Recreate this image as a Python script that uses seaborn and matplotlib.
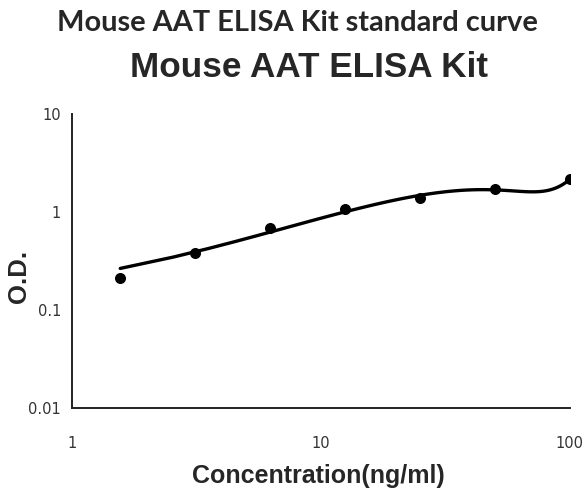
import numpy as np
import pandas as pd
import matplotlib
matplotlib.use("Agg")
import matplotlib.pyplot as plt
import seaborn as sns
from matplotlib.ticker import LogLocator, NullFormatter, FixedFormatter, FixedLocator

# ─── Data ─────────────────────────────────────────────────────────────────────
conc = [1.5625, 3.125, 6.25, 12.5, 25, 50, 100]
od   = [0.212, 0.38, 0.68, 1.07, 1.40, 1.70, 2.15]
x_ticks  = [1, 10, 100]
x_labels = ["1", "10", "100"]
y_ticks  = [0.01, 0.1, 1, 10]
y_labels = ["0.01", "0.1", "1", "10"]

df = pd.DataFrame({"conc": conc, "od": od})

# ─── Plot ─────────────────────────────────────────────────────────────────────
sns.set_theme(style="white")
plt.rcParams["font.family"] = ["DejaVu Sans"]

fig = plt.figure(figsize=(5.83, 4.88), dpi=100)
ax = fig.add_axes([0.1235, 0.164, 0.854, 0.6025])

# cubic trendline (linear x, linear y), drawn on log-log axes
sns.regplot(data=df, x="conc", y="od", order=3, ci=None, truncate=True, ax=ax,
            scatter_kws={"s": 48, "color": "black", "alpha": 1, "zorder": 3},
            line_kws={"color": "black", "lw": 2.4})

ax.set_xscale("log")
ax.set_yscale("log")
ax.set_xlim(1, 100)
ax.set_ylim(0.01, 10)

ax.xaxis.set_major_locator(FixedLocator(x_ticks))
ax.xaxis.set_major_formatter(FixedFormatter(x_labels))
ax.yaxis.set_major_locator(FixedLocator(y_ticks))
ax.yaxis.set_major_formatter(FixedFormatter(y_labels))
ax.xaxis.set_minor_locator(LogLocator(base=10, subs=np.arange(2, 10)))
ax.yaxis.set_minor_locator(LogLocator(base=10, subs=np.arange(2, 10)))
ax.xaxis.set_minor_formatter(NullFormatter())
ax.yaxis.set_minor_formatter(NullFormatter())

ax.tick_params(axis="both", which="both", direction="in", length=6, width=1.2, color="#222222")
ax.tick_params(axis="x", which="major", pad=20, labelsize=10.5, labelcolor="#333333")
ax.tick_params(axis="y", which="major", pad=8, labelsize=10.5, labelcolor="#333333")

sns.despine(ax=ax)
for s in ["left", "bottom"]:
    ax.spines[s].set_color("#222222")
    ax.spines[s].set_linewidth(1.4)

ax.set_xlabel("Concentration(ng/ml)", fontsize=18, fontweight="bold", family="Liberation Sans")
ax.set_ylabel("O.D.", fontsize=18.5, fontweight="bold", family="Liberation Sans")
ax.xaxis.set_label_coords(0.494, -0.19)
ax.yaxis.set_label_coords(-0.082, 0.446)

fig.text(0.51, 0.952, "Mouse AAT ELISA Kit standard curve", ha="center", va="center",
         fontsize=20.9, fontweight="bold", family="Lato")
fig.text(0.53, 0.862, "Mouse AAT ELISA Kit", ha="center", va="center",
         fontsize=25.3, fontweight="bold", family="Liberation Sans")

fig.savefig("out.png", dpi=100)
